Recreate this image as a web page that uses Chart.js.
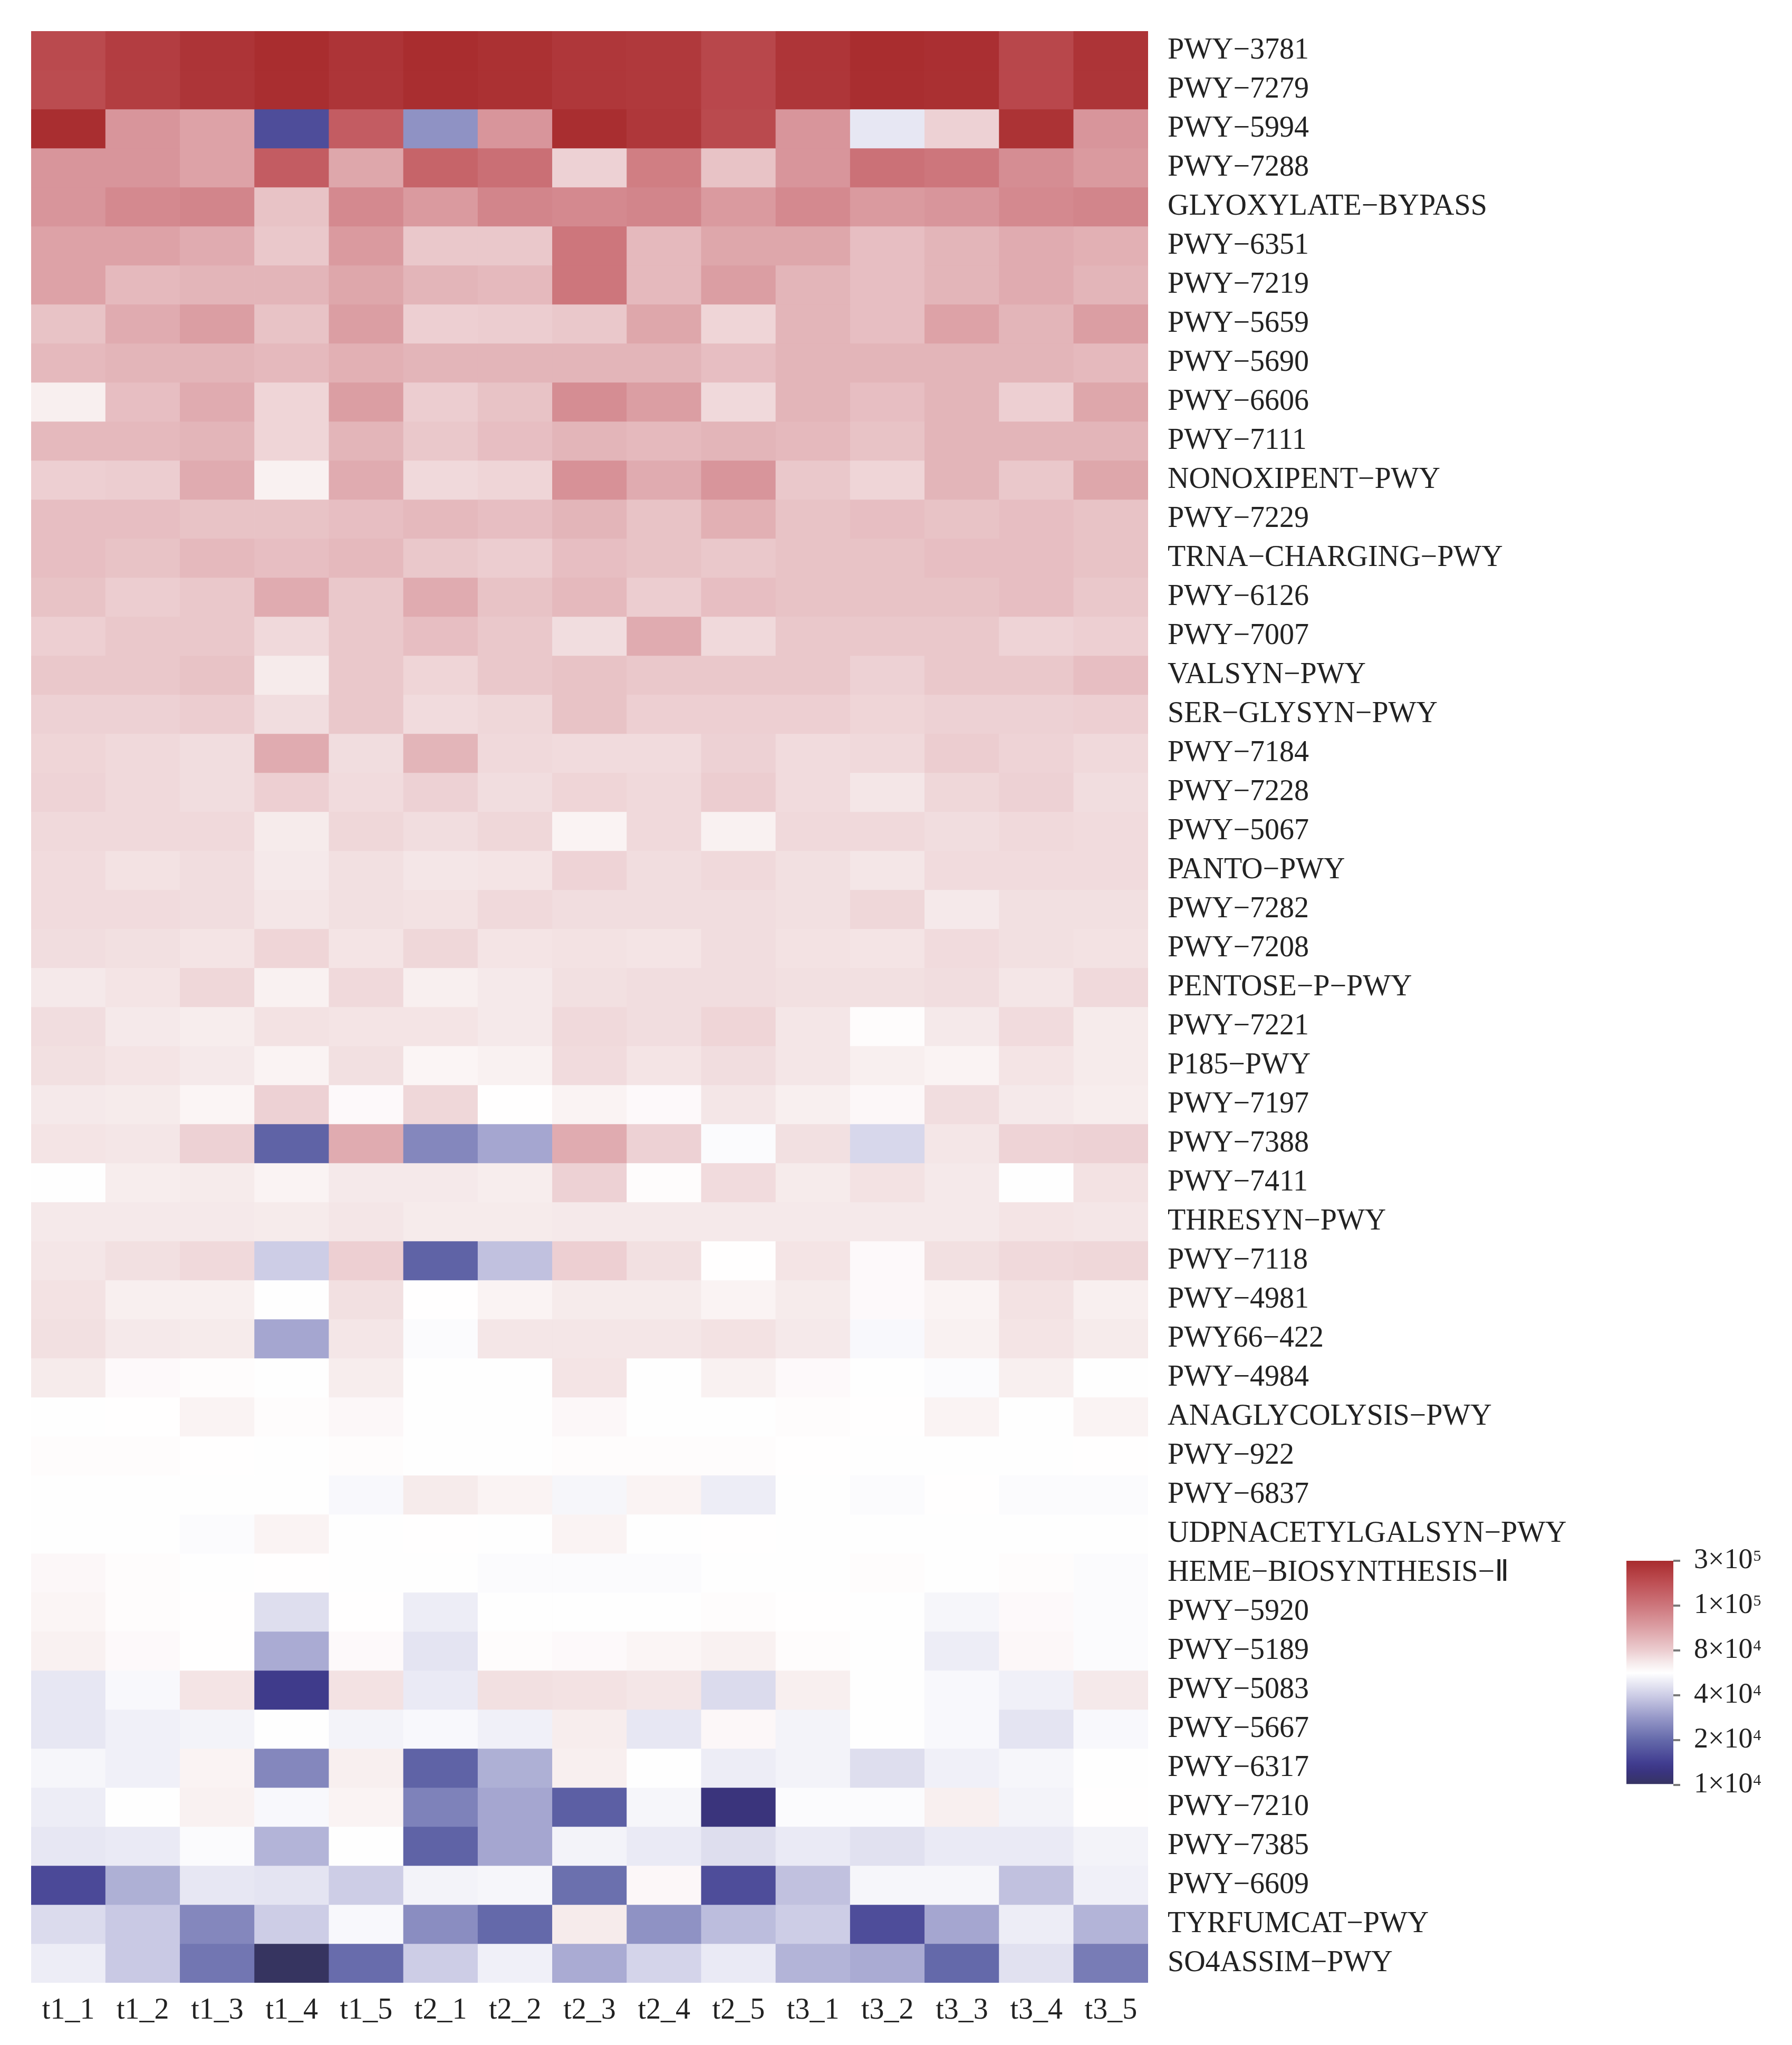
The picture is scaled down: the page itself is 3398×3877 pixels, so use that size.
<!DOCTYPE html>
<html>
<head>
<meta charset="utf-8">
<script src="https://cdn.jsdelivr.net/npm/chart.js@4.4.1/dist/chart.umd.min.js"></script>
<style>
  body { margin: 0; background: #fff; }
  #wrap { position: relative; width: 3398px; height: 3877px; }
  #heat { position: absolute; left: 0; top: 0; }
  #bar { position: absolute; left: 3040px; top: 2900px; }
</style>
</head>
<body>
<div id="wrap">
  <canvas id="heat" width="3040" height="3877"></canvas>
  <canvas id="bar" width="358" height="540"></canvas>
</div>
<script>
// pathway rows, top to bottom
const rowNames = [
  "PWY\u22123781", "PWY\u22127279", "PWY\u22125994", "PWY\u22127288", "GLYOXYLATE\u2212BYPASS",
  "PWY\u22126351", "PWY\u22127219", "PWY\u22125659", "PWY\u22125690", "PWY\u22126606",
  "PWY\u22127111", "NONOXIPENT\u2212PWY", "PWY\u22127229", "TRNA\u2212CHARGING\u2212PWY", "PWY\u22126126",
  "PWY\u22127007", "VALSYN\u2212PWY", "SER\u2212GLYSYN\u2212PWY", "PWY\u22127184", "PWY\u22127228",
  "PWY\u22125067", "PANTO\u2212PWY", "PWY\u22127282", "PWY\u22127208", "PENTOSE\u2212P\u2212PWY",
  "PWY\u22127221", "P185\u2212PWY", "PWY\u22127197", "PWY\u22127388", "PWY\u22127411",
  "THRESYN\u2212PWY", "PWY\u22127118", "PWY\u22124981", "PWY66\u2212422", "PWY\u22124984",
  "ANAGLYCOLYSIS\u2212PWY", "PWY\u2212922", "PWY\u22126837", "UDPNACETYLGALSYN\u2212PWY", "HEME\u2212BIOSYNTHESIS\u2212\u2161",
  "PWY\u22125920", "PWY\u22125189", "PWY\u22125083", "PWY\u22125667", "PWY\u22126317",
  "PWY\u22127210", "PWY\u22127385", "PWY\u22126609", "TYRFUMCAT\u2212PWY", "SO4ASSIM\u2212PWY"
];

const columns = ["t1_1", "t1_2", "t1_3", "t1_4", "t1_5",
                 "t2_1", "t2_2", "t2_3", "t2_4", "t2_5",
                 "t3_1", "t3_2", "t3_3", "t3_4", "t3_5"];

// abundance per sample, in thousands (x10^3), one value per pathway row
const t1_1 = [190,185,290,92,92,89,89,82,84,64, 84,79,83,83,82,79,81,78,76,77, 74,73,73,72,67,72,71,67,69,56, 67,68,70,71,66,56,58,56,56,60, 61,63,48,48,53,50,48,15.5,44,50];
const t1_2 = [230,228,92,92,95,89,84,87,85,83, 84,80,83,82,80,81,81,78,74,74, 74,70,73,71,69,67,69,66,68,65, 67,71,64,67,59,57,58,56,56,58, 58,59,54,51,51,56,49,33,39,39];
const t1_3 = [265,262,89,89,96,87,85,90,85,87, 85,87,82,84,81,81,82,80,72,72, 74,72,72,69,75,65,67,61,78,66, 67,74,64,66,58,62,57,56,55,56, 57,57,69,52,62,63,55,48,25,22];
const t1_4 = [295,292,16,145,82,81,85,82,84,76, 76,63,82,83,87,74,66,72,87,79, 66,67,68,76,63,70,62,78,19,62, 66,40,56,31,56,58,56,56,62,57, 45,32,13.5,56,25,54,34,47,40,10];
const t1_5 = [265,262,145,88,95,91,88,90,86,90, 85,87,83,84,81,81,81,81,72,73, 75,71,71,69,74,69,71,59,87,67, 68,79,71,68,65,60,58,54,56,56, 57,59,70,52,64,62,56,40,54,20.5];
const t2_1 = [295,292,27,130,91,81,85,79,85,80, 81,74,84,81,87,83,76,73,85,78, 72,68,70,75,64,69,61,75,25,67, 66,19,57,55,56,56,56,66,57,56, 50,47,49,54,19,24,19,52,26,40];
const t2_2 = [280,278,92,110,96,81,84,80,85,82, 83,76,83,80,82,81,81,75,74,72, 75,69,74,69,67,67,63,57,31,65, 66,37,62,68,56,56,56,62,56,55, 56,58,71,51,33,31,31,53,20,51];
const t2_3 = [255,252,290,78,95,100,100,81,85,94, 85,93,85,83,84,72,82,82,73,76, 62,77,72,70,71,74,73,62,87,78, 67,79,66,68,69,60,58,53,62,55, 56,59,70,65,64,18.5,52,21,66,32];
const t2_4 = [245,245,255,98,96,84,84,88,85,90, 84,87,82,82,80,87,81,79,73,74, 74,72,72,69,72,72,69,59,78,58, 67,71,66,68,56,56,58,62,56,55, 56,61,68,48,56,53,49,60,27,42];
const t2_5 = [200,198,190,82,91,88,90,76,83,74, 85,92,86,81,83,74,81,79,78,80, 63,74,72,72,72,76,72,68,55,73, 67,57,62,70,63,56,58,50,57,56, 58,63,44,60,50,12,45,16,36,49];
const t3_1 = [260,258,92,92,95,88,85,85,85,85, 84,81,82,82,82,81,81,79,73,73, 74,71,71,70,71,68,68,64,71,66, 67,69,66,67,59,58,57,56,56,56, 57,58,64,52,52,55,49,37,40,34];
const t3_2 = [295,292,48,108,91,83,83,83,85,83, 82,76,83,82,82,81,78,76,74,68, 74,68,75,69,71,58,64,60,43,70, 67,59,59,54,56,57,56,55,56,58, 56,56,56,56,45,55,46,53,16,32];
const t3_3 = [285,282,78,100,92,85,85,89,85,85, 85,85,82,83,82,81,81,78,80,75, 72,73,67,73,72,67,62,72,68,67, 67,71,62,63,55,62,56,57,56,56, 53,50,54,54,51,64,49,53,31,20];
const t3_4 = [200,198,270,94,95,87,87,85,85,79, 85,81,83,83,83,77,81,78,77,78, 74,73,71,71,68,73,69,67,77,56, 69,74,70,69,64,56,56,55,56,58, 59,60,51,47,53,52,49,37,50,46];
const t3_5 = [265,262,92,91,96,86,85,90,84,88, 85,88,82,82,81,79,83,79,74,72, 73,73,71,70,74,66,66,65,78,70, 68,75,64,66,56,62,57,55,56,55, 55,55,67,54,56,57,52,51,34,23];

// colour key ticks (same units as above) and their labels: mantissa x 10^power
const keyValues = [10, 20, 40, 80, 100, 300];
const keyBase = ["1\u00d710", "2\u00d710", "4\u00d710", "8\u00d710", "1\u00d710", "3\u00d710"];
const keyPower = ["4", "4", "4", "4", "5", "5"];

const colValues = [t1_1, t1_2, t1_3, t1_4, t1_5, t2_1, t2_2, t2_3, t2_4, t2_5, t3_1, t3_2, t3_3, t3_4, t3_5];

// blue - white - red palette along the key (0 = 1x10^4 ... 5 = 3x10^5)
const stops = [
  [0,   [54, 52, 96]],
  [0.3, [58, 52, 128]],
  [0.5, [66, 62, 145]],
  [1,   [100, 105, 170]],
  [1.5, [150, 152, 200]],
  [2,   [205, 205, 230]],
  [2.5, [255, 255, 255]],
  [2.75,[245, 232, 233]],
  [3,   [236, 205, 208]],
  [3.5, [220, 160, 165]],
  [4,   [205, 118, 124]],
  [4.5, [190, 80, 85]],
  [5,   [168, 44, 46]]
];

function keyPos(v) {
  if (v <= keyValues[0]) return 0;
  for (let i = 0; i < keyValues.length - 1; i++) {
    if (v <= keyValues[i + 1]) {
      return i + Math.log(v / keyValues[i]) / Math.log(keyValues[i + 1] / keyValues[i]);
    }
  }
  return keyValues.length - 1;
}

function rgbAt(p) {
  for (let i = 0; i < stops.length - 1; i++) {
    const a = stops[i], b = stops[i + 1];
    if (p <= b[0]) {
      const f = (p - a[0]) / (b[0] - a[0]);
      const c = a[1].map((x, k) => Math.round(x + (b[1][k] - x) * f));
      return "rgb(" + c.join(",") + ")";
    }
  }
  return "rgb(" + stops[stops.length - 1][1].join(",") + ")";
}

const serif = "'Liberation Serif', 'Times New Roman', serif";

// one stacked dataset per pathway, one unit-high cell per sample
const datasets = rowNames.map((name, r) => ({
  label: name,
  data: columns.map(() => 1),
  backgroundColor: colValues.map(col => rgbAt(keyPos(col[r]))),
  borderWidth: 0,
  barPercentage: 1,
  categoryPercentage: 1
}));

new Chart(document.getElementById("heat"), {
  type: "bar",
  data: { labels: columns, datasets: datasets },
  options: {
    responsive: false,
    animation: false,
    devicePixelRatio: 1,
    layout: { padding: { left: 59, top: 59, right: 0, bottom: 0 } },
    plugins: { legend: { display: false }, tooltip: { enabled: false } },
    scales: {
      x: {
        stacked: true,
        grid: { display: false, drawTicks: false },
        border: { display: false },
        ticks: { color: "#222", font: { family: serif, size: 56 }, padding: 20, maxRotation: 0, autoSkip: false },
        afterFit: s => { s.height = 118; s.paddingLeft = 0; s.paddingRight = 0; }
      },
      y: { stacked: true, display: false, min: 0, max: 50, reverse: true },
      rows: {
        type: "category",
        axis: "y",
        position: "right",
        labels: rowNames,
        offset: true,
        grid: { display: false, drawTicks: false },
        border: { display: false },
        ticks: { color: "#222", font: { family: serif, size: 56 }, padding: 37, autoSkip: false },
        afterFit: s => { s.width = 863; s.paddingTop = 0; s.paddingBottom = 0; }
      }
    }
  }
});

// colour key
const keyPositions = keyValues.map(keyPos);
const KEY_TICK = 13, KEY_PAD = 26, KEY_FONT = 54, POW_FONT = 30;

function keyGradient(chart) {
  const area = chart.chartArea;
  if (!area) return "#fff";
  const y = chart.scales.y;
  const g = chart.ctx.createLinearGradient(0, y.getPixelForValue(0), 0, y.getPixelForValue(5));
  stops.forEach(s => g.addColorStop(s[0] / 5, rgbAt(s[0])));
  return g;
}

// raised exponents next to the "n×10" tick labels
const powerLabels = {
  id: "powerLabels",
  afterDraw(chart) {
    const s = chart.scales.y;
    const ctx = chart.ctx;
    ctx.save();
    ctx.fillStyle = "#222";
    ctx.textAlign = "left";
    ctx.textBaseline = "alphabetic";
    s.ticks.forEach((t, i) => {
      ctx.font = KEY_FONT + "px " + serif;
      const w = ctx.measureText(keyBase[i]).width;
      const x = s.left + KEY_TICK + KEY_PAD + w + 1;
      const y = s.getPixelForValue(t.value);
      ctx.font = POW_FONT + "px " + serif;
      ctx.fillText(keyPower[i], x, y);
    });
    ctx.restore();
  }
};

new Chart(document.getElementById("bar"), {
  type: "bar",
  data: {
    labels: [""],
    datasets: [{
      data: [[keyPositions[0], keyPositions[keyPositions.length - 1]]],
      backgroundColor: ctx => keyGradient(ctx.chart),
      borderWidth: 0,
      barPercentage: 1,
      categoryPercentage: 1
    }]
  },
  plugins: [powerLabels],
  options: {
    responsive: false,
    animation: false,
    devicePixelRatio: 1,
    layout: { padding: { left: 44, top: 59, right: 0, bottom: 56 } },
    plugins: { legend: { display: false }, tooltip: { enabled: false } },
    scales: {
      x: { display: false },
      y: {
        position: "right",
        min: 0,
        max: 5,
        grid: { drawOnChartArea: false, drawTicks: true, tickLength: KEY_TICK, color: "#7a7a7a", lineWidth: 4 },
        border: { display: false },
        afterBuildTicks: s => { s.ticks = keyPositions.map(v => ({ value: v })); },
        ticks: {
          padding: KEY_PAD,
          color: "#222",
          font: { family: serif, size: KEY_FONT },
          callback: (v, i) => keyBase[i]
        },
        afterFit: s => { s.width = 225; s.paddingTop = 0; s.paddingBottom = 0; }
      }
    }
  }
});
</script>
</body>
</html>
